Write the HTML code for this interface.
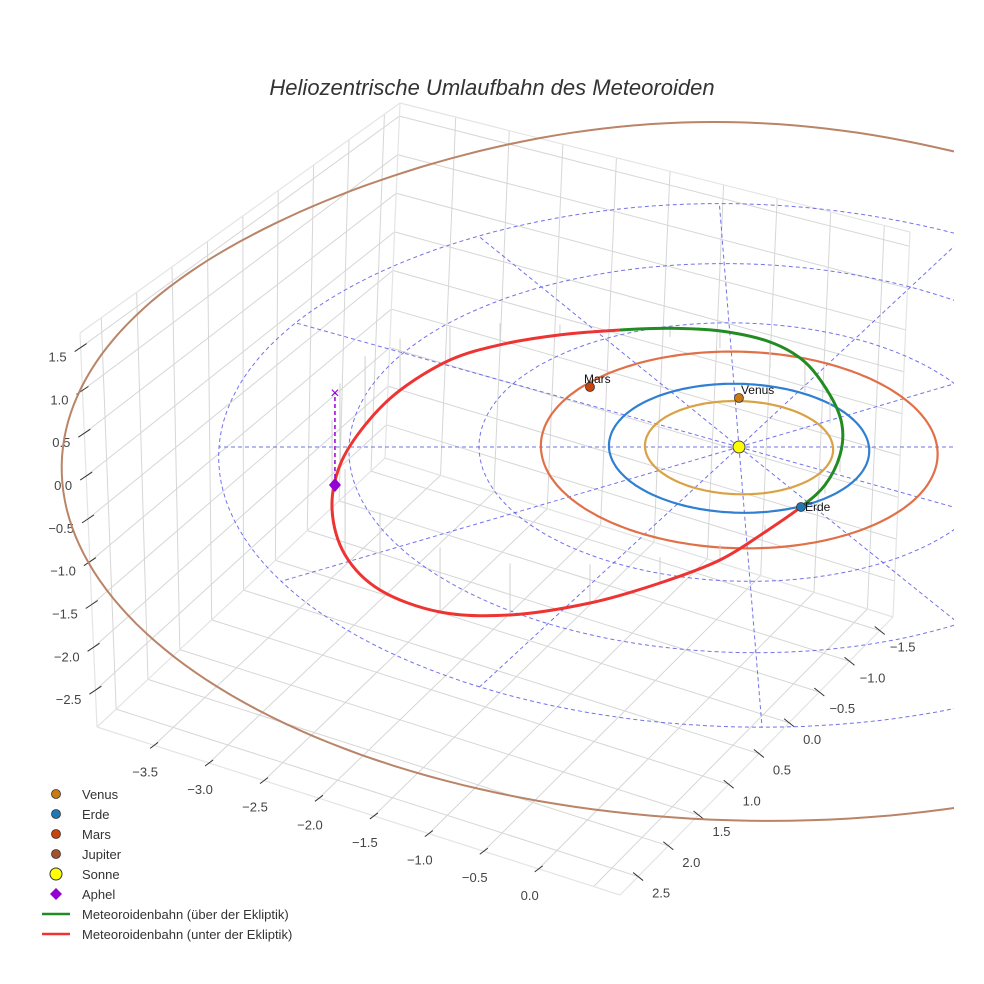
<!DOCTYPE html>
<html><head><meta charset="utf-8"><style>
html,body{margin:0;padding:0;background:#fff;}
svg{display:block;font-family:"Liberation Sans",sans-serif;}
</style></head><body>
<svg id="chart" width="984" height="984" viewBox="0 0 984 984" xmlns="http://www.w3.org/2000/svg">
<rect width="984" height="984" fill="#fff"/>
<defs><clipPath id="sceneClip"><rect x="0" y="60" width="954" height="900"/></clipPath></defs>
<text x="492" y="95" text-anchor="middle" font-size="22" font-style="italic" fill="#333">Heliozentrische Umlaufbahn des Meteoroiden</text>
<g id="box"></g>
<g id="ticks"></g>
<g id="scene" clip-path="url(#sceneClip)"></g>
<g id="legend"></g>
</svg>
<script>
// ---- data ----
const xTicks = [-3.5,-3.0,-2.5,-2.0,-1.5,-1.0,-0.5,0.0];
const xGrid = [-3.5,-3.0,-2.5,-2.0,-1.5,-1.0,-0.5,0.0,0.5];
const yTicks = [-1.5,-1.0,-0.5,0.0,0.5,1.0,1.5,2.0,2.5];
const zTicks = [-2.5,-2.0,-1.5,-1.0,-0.5,0.0,0.5,1.0,1.5];
const planetNames = ["Venus","Erde","Mars"];
const planetU = [0.031,0.431,-1.129];
const planetV = [-0.771,0.913,-0.948];
const orbitRadii = [0.723,1.0,1.524,5.2];
const gridRadii = [1,2,3,4];
const orbitU = [0.431,0.630,0.770,0.812,0.745,0.576,0.315,-0.076,-0.473,-0.873,-1.353,-1.831,-2.228,-2.617,-2.882,-3.064,-3.110,-2.999,-2.732,-2.288,-1.776,-1.188,-0.666,-0.210,0.143];
const orbitV = [0.913,0.582,0.124,-0.343,-0.819,-1.353,-1.682,-1.865,-1.910,-1.880,-1.800,-1.636,-1.385,-0.896,-0.343,0.279,0.958,1.621,2.124,2.435,2.477,2.308,2.024,1.693,1.284];
const orbitZ = [0,0.1,0.2,0.28,0.33,0.35,0.3,0.2,0.1,0,-0.12,-0.25,-0.4,-0.6,-0.8,-0.95,-1.05,-1.0,-0.9,-0.75,-0.6,-0.45,-0.3,-0.18,-0.08];
const aphelU = -3.096, aphelV = 0.582, aphelZ = -1.07;

// ---- projection ----
const NS="http://www.w3.org/2000/svg";
const SX=739, SY=447, ZPX=86;
function proj(u,v){const p=1/(1-0.0198*v);let y=SY+64.5*v*p;if(v<0)y-=0.00106*Math.pow(v,6);return [SX+(130*u+5.3*v)*p,y];}
const XMIN=-4.02,XMAX=0.74,YF=2.8,YB=-1.72,ZMIN=-2.93,ZMAX=1.67;
const L=[97,727],F=[620,895],R=[893,617],Bk=[385,458],Lt=[80,333],Bkt=[400,103],Rt=[910,232];
const lerp=(a,b,t)=>[a[0]+(b[0]-a[0])*t,a[1]+(b[1]-a[1])*t];
function fx(x){return (x-XMIN)/(XMAX-XMIN);}
function fy(y){return (YF-y)/(YF-YB);}
function fz(z){return (z-ZMIN)/(ZMAX-ZMIN);}
function floorPt(x,y){const t=fx(x),s=fy(y);return lerp(lerp(L,F,t),lerp(Bk,R,t),s);}
function leftWall(y,z){const s=fy(y);return lerp(lerp(L,Bk,s),lerp(Lt,Bkt,s),fz(z));}
function rightWall(x,z){const t=fx(x);return lerp(lerp(Bk,R,t),lerp(Bkt,Rt,t),fz(z));}
function el(tag,attrs,parent){const e=document.createElementNS(NS,tag);for(const k in attrs)e.setAttribute(k,attrs[k]);parent.appendChild(e);return e;}
function line(a,b,parent,stroke,w,extra){const e=el('line',{x1:a[0],y1:a[1],x2:b[0],y2:b[1],stroke:stroke,'stroke-width':w},parent);if(extra)for(const k in extra)e.setAttribute(k,extra[k]);return e;}

const box=document.getElementById('box'),ticks=document.getElementById('ticks'),scene=document.getElementById('scene'),legend=document.getElementById('legend');
const G='#d6d6d6';
xGrid.forEach(x=>{const e=line(floorPt(x,YF),floorPt(x,YB),box,G,1);

});
yTicks.forEach(y=>{const e=line(floorPt(XMIN,y),floorPt(XMAX,y),box,G,1);

});
yTicks.forEach(y=>{const e=line(leftWall(y,ZMIN),leftWall(y,ZMAX),box,G,1);

});
zTicks.forEach(z=>{const e=line(leftWall(YF,z),leftWall(YB,z),box,G,1);

});
xGrid.forEach(x=>{const e=line(rightWall(x,ZMIN),rightWall(x,ZMAX),box,G,1);

});
zTicks.forEach(z=>{const e=line(rightWall(XMIN,z),rightWall(XMAX,z),box,G,1);

});
[[L,F],[F,R],[L,Lt],[Bk,Bkt],[R,Rt],[Lt,Bkt],[Bkt,Rt],[L,Bk],[Bk,R]].forEach(p=>{const e=line(p[0],p[1],box,'#e4e4e4',1.2);

});

const fmt=v=>(v<0?'\u2212':'')+Math.abs(v).toFixed(1);
xTicks.forEach(x=>{const p=floorPt(x,YF);line([p[0]-4,p[1]+3],[p[0]+4,p[1]-3],ticks,'#333',1);
const t=el('text',{x:p[0]-9,y:p[1]+31,'text-anchor':'middle','font-size':13,fill:'#444'},ticks);t.textContent=fmt(x);

});
yTicks.forEach(y=>{const p=floorPt(XMAX,y);line([p[0]-5,p[1]-4],[p[0]+5,p[1]+4],ticks,'#333',1);
const t=el('text',{x:p[0]+23,y:p[1]+21,'text-anchor':'middle','font-size':13,fill:'#444'},ticks);t.textContent=fmt(y);

});
zTicks.forEach(z=>{const p=leftWall(YF,z);line([p[0]-6,p[1]+4],[p[0]+6,p[1]-4],ticks,'#333',1);
const t=el('text',{x:p[0]-14,y:p[1]+14,'text-anchor':'end','font-size':13,fill:'#444'},ticks);t.textContent=fmt(z);

});

function ellipsePath(r,n){let d='';for(let i=0;i<=n;i++){const a=2*Math.PI*i/n;const p=proj(r*Math.cos(a),r*Math.sin(a));d+=(i?'L':'M')+p[0].toFixed(1)+','+p[1].toFixed(1);}return d+'Z';}
gridRadii.forEach(r=>{const e=el('path',{d:ellipsePath(r,180),fill:'none',stroke:'#5a5ae6','stroke-width':1,'stroke-dasharray':'4,3',opacity:0.85},scene);

});
for(let k=0;k<12;k++){const a=k*Math.PI/6;const rmax=gridRadii[gridRadii.length-1];const e=line(proj(0,0),proj(rmax*Math.cos(a),rmax*Math.sin(a)),scene,'#5a5ae6',1,{'stroke-dasharray':'4,3',opacity:0.85});

}
const orbitColors=['#d9a244','#2f7fd2','#e07048','#b98468'];
const orbitNames=['venus-orbit','earth-orbit','mars-orbit','jupiter-orbit'];
orbitRadii.forEach((r,i)=>{const e=el('path',{d:ellipsePath(r,240),fill:'none',stroke:orbitColors[i],'stroke-width':i==3?2:2.2},scene);

});

const N=orbitU.length;
const pts=orbitU.map((u,i)=>proj(u,orbitV[i]));
pts.forEach((p,i)=>{const e=line(p,[p[0],p[1]+orbitZ[i]*ZPX],scene,'#cfcfcf',1);

});
function crSeg(i0,i1){let d='';for(let i=i0;i<i1;i++){const p0=pts[(i-1+N)%N],p1=pts[i%N],p2=pts[(i+1)%N],p3=pts[(i+2)%N];
if(i===i0)d+='M'+p1[0].toFixed(1)+','+p1[1].toFixed(1);
const c1=[p1[0]+(p2[0]-p0[0])/6,p1[1]+(p2[1]-p0[1])/6],c2=[p2[0]-(p3[0]-p1[0])/6,p2[1]-(p3[1]-p1[1])/6];
d+='C'+c1.map(v=>v.toFixed(1))+' '+c2.map(v=>v.toFixed(1))+' '+p2.map(v=>v.toFixed(1));}return d;}
let boundary=orbitZ.findIndex((z,i)=>i>0&&z<=0);
const g1=el('path',{d:crSeg(0,boundary),fill:'none',stroke:'#228b22','stroke-width':3},scene);


const r1=el('path',{d:crSeg(boundary,N),fill:'none',stroke:'#ee3333','stroke-width':3},scene);



const ap=proj(aphelU,aphelV),apTop=[ap[0],ap[1]+aphelZ*ZPX];
const apl=line(ap,apTop,scene,'#9400d3',1.5,{'stroke-dasharray':'4,3'});


const apx=el('text',{x:apTop[0],y:apTop[1]+5,'text-anchor':'middle','font-size':16,fill:'#9400d3'},scene);apx.textContent='\u00d7';


const apd=el('path',{d:`M${ap[0]},${ap[1]-7}L${ap[0]+6},${ap[1]}L${ap[0]},${ap[1]+7}L${ap[0]-6},${ap[1]}Z`,fill:'#9400d3'},scene);



const sp=proj(0,0);
const sun=el('circle',{cx:sp[0],cy:sp[1],r:6,fill:'#ffff00',stroke:'#444','stroke-width':1},scene);


const pColors=['#c97a10','#1f77b4','#c8440c'];
planetNames.forEach((n,i)=>{const p=proj(planetU[i],planetV[i]);
const c=el('circle',{cx:p[0],cy:p[1],r:4.5,fill:pColors[i],stroke:'#333','stroke-width':0.8},scene);


const t=el('text',{x:n==='Mars'?p[0]-6:p[0]+2,y:p[1]-4,'font-size':12,fill:'#111'},scene);t.textContent=n;
if(n==='Erde'){t.setAttribute('x',p[0]+4);t.setAttribute('y',p[1]+4);}

});

const legNames=['Venus','Erde','Mars','Jupiter','Sonne','Aphel','Meteoroidenbahn (über der Ekliptik)','Meteoroidenbahn (unter der Ekliptik)'];
const legColors=['#c97a10','#1f77b4','#c8440c','#a0522d','#ffff00','#9400d3','#228b22','#ee3333'];
legNames.forEach((n,i)=>{const y=794+i*20;const g=el('g',{},legend);


if(i<4)el('circle',{cx:56,cy:y,r:4.5,fill:legColors[i],stroke:'#333','stroke-width':0.8},g);
else if(i===4)el('circle',{cx:56,cy:y,r:6,fill:legColors[i],stroke:'#333','stroke-width':1},g);
else if(i===5)el('path',{d:`M56,${y-6}L62,${y}L56,${y+6}L50,${y}Z`,fill:legColors[i]},g);
else el('line',{x1:42,y1:y,x2:70,y2:y,stroke:legColors[i],'stroke-width':2.5},g);
const t=el('text',{x:82,y:y+5,'font-size':13,fill:'#333'},g);t.textContent=n;});
</script>
</body></html>
